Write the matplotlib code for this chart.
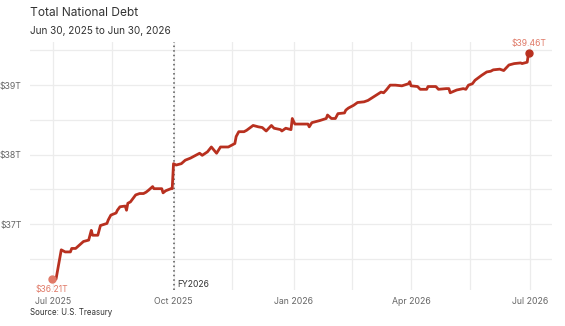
import pandas as pd
import matplotlib
matplotlib.use("Agg")
import matplotlib.pyplot as plt

plt.rcParams['font.family'] = ['Inter', 'DejaVu Sans']

# debt in trillions of dollars
dates = ["2025-06-30", "2025-07-03", "2025-07-07", "2025-07-10", "2025-07-14", "2025-07-15",
         "2025-07-18", "2025-07-21", "2025-07-24", "2025-07-28", "2025-07-30", "2025-07-31",
         "2025-08-04", "2025-08-06", "2025-08-11", "2025-08-12", "2025-08-14", "2025-08-18",
         "2025-08-19", "2025-08-21", "2025-08-25", "2025-08-26", "2025-08-27", "2025-08-29",
         "2025-09-02", "2025-09-05", "2025-09-08", "2025-09-10", "2025-09-12", "2025-09-15",
         "2025-09-16", "2025-09-22", "2025-09-23", "2025-09-25", "2025-09-29", "2025-09-30",
         "2025-10-01", "2025-10-03", "2025-10-07", "2025-10-10", "2025-10-14", "2025-10-16",
         "2025-10-21", "2025-10-23", "2025-10-27", "2025-10-30", "2025-11-03", "2025-11-06",
         "2025-11-12", "2025-11-17", "2025-11-18", "2025-11-20", "2025-11-24", "2025-11-26",
         "2025-12-01", "2025-12-05", "2025-12-08", "2025-12-11", "2025-12-15", "2025-12-17",
         "2025-12-22", "2025-12-23", "2025-12-26", "2025-12-30", "2025-12-31", "2026-01-02",
         "2026-01-12", "2026-01-13", "2026-01-15", "2026-01-21", "2026-01-26", "2026-01-27",
         "2026-01-30", "2026-02-02", "2026-02-04", "2026-02-09", "2026-02-10", "2026-02-12",
         "2026-02-16", "2026-02-19", "2026-02-24", "2026-02-27", "2026-03-04", "2026-03-09",
         "2026-03-11", "2026-03-13", "2026-03-16", "2026-03-20", "2026-03-25", "2026-03-30",
         "2026-03-31", "2026-04-01", "2026-04-06", "2026-04-08", "2026-04-13", "2026-04-14",
         "2026-04-20", "2026-04-22", "2026-04-28", "2026-04-30", "2026-05-01", "2026-05-06",
         "2026-05-11", "2026-05-13", "2026-05-15", "2026-05-18", "2026-05-20", "2026-05-25",
         "2026-05-29", "2026-06-01", "2026-06-03", "2026-06-08", "2026-06-11", "2026-06-15",
         "2026-06-19", "2026-06-24", "2026-06-25", "2026-06-29", "2026-06-30"]
debt = [36.21, 36.21, 36.63, 36.60, 36.60, 36.65,
        36.65, 36.70, 36.75, 36.77, 36.91, 36.84,
        36.84, 36.98, 37.01, 37.06, 37.13, 37.16,
        37.20, 37.25, 37.26, 37.20, 37.30, 37.32,
        37.42, 37.44, 37.44, 37.46, 37.49, 37.54,
        37.51, 37.51, 37.45, 37.48, 37.51, 37.51,
        37.87, 37.85, 37.87, 37.92, 37.95, 37.97,
        38.02, 37.99, 38.04, 38.11, 38.02, 38.11,
        38.11, 38.16, 38.26, 38.33, 38.33, 38.35,
        38.42, 38.40, 38.39, 38.34, 38.42, 38.38,
        38.36, 38.34, 38.38, 38.36, 38.52, 38.44,
        38.44, 38.40, 38.46, 38.49, 38.52, 38.57,
        38.52, 38.52, 38.59, 38.60, 38.64, 38.67,
        38.71, 38.75, 38.76, 38.78, 38.84, 38.90,
        38.89, 38.93, 39.00, 39.00, 38.99, 39.02,
        39.05, 38.99, 38.98, 38.94, 38.94, 38.98,
        38.98, 38.94, 38.95, 38.95, 38.89, 38.93,
        38.95, 38.94, 39.00, 39.02, 39.07, 39.14,
        39.19, 39.20, 39.22, 39.23, 39.21, 39.29,
        39.31, 39.32, 39.31, 39.33, 39.46]

x_ticks = ["2025-07-01", "2025-10-01", "2026-01-01", "2026-04-01", "2026-07-01"]
x_tick_labels = ["Jul 2025", "Oct 2025", "Jan 2026", "Apr 2026", "Jul 2026"]
x_minor = ["2025-08-15", "2025-11-15", "2026-02-15", "2026-05-16"]
y_ticks = [37, 38, 39]
y_minor = [36.5, 37.5, 38.5, 39.5]
fy_start = "2025-10-01"

dates = pd.to_datetime(dates)
red = "#b8301f"
light_red = "#e07a68"

fig = plt.figure(figsize=(5.65, 3.26), dpi=100)
ax = fig.add_axes([0.053, 0.11, 0.924, 0.761])

ax.plot(dates, debt, color=red, lw=2.0, solid_joinstyle='round', zorder=3)
ax.plot(dates[0], debt[0], 'o', color=light_red, ms=5, zorder=4)
ax.plot(dates[-1], debt[-1], 'o', color=red, ms=5, zorder=4)
ax.annotate(f"${debt[0]:.2f}T", (dates[0], debt[0]), xytext=(0, -4), textcoords='offset points',
            ha='center', va='top', fontsize=6.2, color=light_red)
ax.annotate(f"${debt[-1]:.2f}T", (dates[-1], debt[-1]), xytext=(0, 3.5), textcoords='offset points',
            ha='center', va='bottom', fontsize=6.2, color=light_red)

fy = pd.Timestamp(fy_start)
ax.axvline(fy, color="#555555", lw=1.1, ls=(0, (1, 2)), zorder=2)
ax.text(fy + pd.Timedelta(days=3), 36.065, "FY2026", fontsize=6.2, color="#333333", va='bottom', ha='left')

ax.set_xlim(pd.Timestamp("2025-06-13"), pd.Timestamp("2026-07-18"))
ax.set_ylim(36.05, 39.62)
ax.set_xticks(pd.to_datetime(x_ticks))
ax.set_xticklabels(x_tick_labels)
ax.set_xticks(pd.to_datetime(x_minor), minor=True)
ax.set_yticks(y_ticks)
ax.set_yticklabels([f"${v}T" for v in y_ticks])
ax.set_yticks(y_minor, minor=True)

ax.grid(True, which='both', color="#ececec", lw=0.9, zorder=0)
ax.set_axisbelow(True)
for s in ax.spines.values():
    s.set_visible(False)
ax.tick_params(which='both', length=0, labelsize=6.3, labelcolor="#666666")
ax.tick_params(axis='x', pad=5)
ax.tick_params(axis='y', pad=6)

fig.text(0.053, 0.96, "Total National Debt", fontsize=8.6, color="#333333", va='center')
fig.text(0.053, 0.905, "Jun 30, 2025 to Jun 30, 2026", fontsize=7.2, color="#333333", va='center')
fig.text(0.053, 0.04, "Source: U.S. Treasury", fontsize=5.7, color="#333333", va='center')

fig.savefig("out.png", dpi=100)
